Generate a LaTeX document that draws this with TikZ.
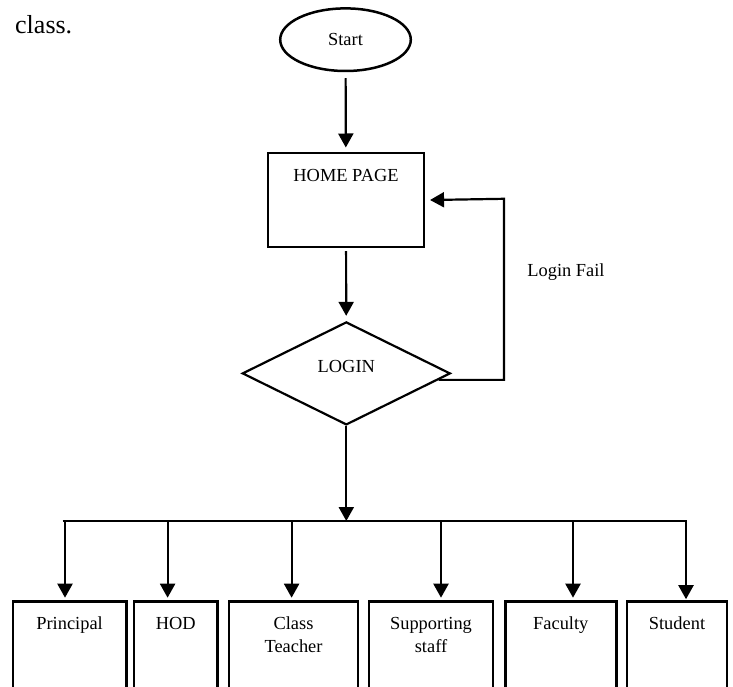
\documentclass[tikz,border=0pt]{standalone}
\usepackage{fontspec}
\setmainfont{Liberation Serif}
\usetikzlibrary{shapes.geometric,arrows.meta}

\begin{document}
\begin{tikzpicture}[x=1pt,y=-1pt,
        line/.style={line width=2.2pt},
        arrow/.style={line width=2.2pt,-{Triangle[length=14pt,width=15pt]}},
        txt/.style={font=\fontsize{18.4}{23}\selectfont},
        box/.style={draw,line width=2.5pt,anchor=north,inner xsep=2pt,inner ysep=4pt,
                    text height=24pt,align=center,txt},
        rolebox/.style={box,text depth=100pt},
        tworolebox/.style={box,text height=47pt,text depth=77pt}]
        \clip (0,0) rectangle (733,687);

        \node[anchor=base west,inner sep=0pt,font=\fontsize{26}{30}\selectfont] (cls) at (15,34) {class.};

        \node[draw,ellipse,line width=2.5pt,minimum width=130.6pt,minimum height=62.6pt,inner sep=0pt,txt] (start) at (345.5,39.7) {Start};
        \node[box,minimum width=155.6pt,text depth=61.7pt] (home) at (346,152) {HOME PAGE};
        \node[draw,diamond,line width=2.2pt,minimum width=208pt,minimum height=103pt,inner sep=0pt,text depth=13pt,txt] (login) at (346.3,373.4) {LOGIN};
        \node[txt] (fail) at (566,272) {Login Fail};

        \node[rolebox,minimum width=113.6pt] (r1) at (69.6,600.2) {Principal};
        \node[rolebox,minimum width=83.2pt] (r2) at (175.8,600.2) {HOD};
        \node[tworolebox,minimum width=128.6pt] (r3) at (293.5,600.2) {Class\\Teacher};
        \node[tworolebox,minimum width=123.6pt] (r4) at (431,600.2) {Supporting\\staff};
        \node[rolebox,minimum width=111pt] (r5) at (560.8,600.2) {Faculty};
        \node[rolebox,minimum width=99.6pt] (r6) at (677,600.2) {Student};

        \coordinate (loop) at (504,198.8);
        \coordinate (busmid) at (346.3,521);
        \coordinate (buswest) at (62.7,521);
        \coordinate (buseast) at (687,521);
        \coordinate (d1) at (65,521);
        \coordinate (d2) at (167.6,521);
        \coordinate (d3) at (291.6,521);
        \coordinate (d4) at (441,521);
        \coordinate (d5) at (573,521);
        \coordinate (d6) at (686,521);

        \draw[arrow,shorten <=6pt,shorten >=4.5pt] (start) -- (home);
        \draw[arrow,shorten <=3pt,shorten >=5pt] (home) -- (login);
        \draw[arrow,shorten >=5pt] (login.-4.5) -| (loop) -- (home.east);
        \draw[arrow] (login) -- (busmid);
        \draw[line] (buswest) -- (buseast);

        \draw[arrow,shorten >=2.5pt] (d1) -- (d1 |- r1.north);
        \draw[arrow,shorten >=2.5pt] (d2) -- (d2 |- r2.north);
        \draw[arrow,shorten >=2.5pt] (d3) -- (d3 |- r3.north);
        \draw[arrow,shorten >=2.5pt] (d4) -- (d4 |- r4.north);
        \draw[arrow,shorten >=2.5pt] (d5) -- (d5 |- r5.north);
        \draw[arrow,shorten >=1pt] (d6) -- (d6 |- r6.north);
\end{tikzpicture}
\end{document}
